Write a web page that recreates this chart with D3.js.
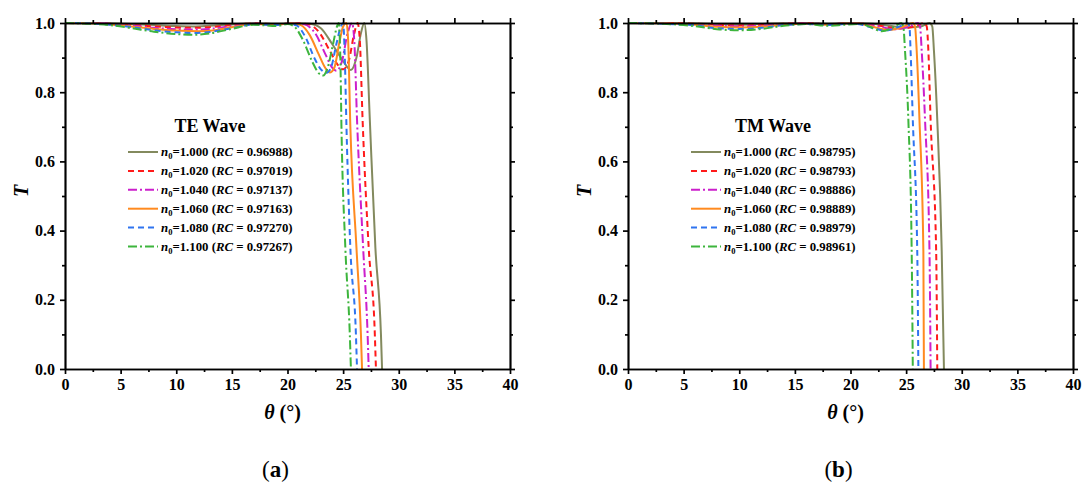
<!DOCTYPE html>
<html>
<head>
<meta charset="utf-8">
<script src="https://cdnjs.cloudflare.com/ajax/libs/d3/7.8.5/d3.min.js"></script>
<style>
  body { margin: 0; background: #fff; }
  svg { font-family: "Liberation Serif", "DejaVu Serif", serif; }
  .axis path, .axis line { stroke: #000; stroke-width: 1.7; }
  .axis text { font-size: 16px; font-weight: bold; fill: #000; font-family: "Liberation Serif", serif; }
</style>
</head>
<body>
<svg width="1082" height="486"></svg>
<script>
// legend labels
var nLabels = ["1.000", "1.020", "1.040", "1.060", "1.080", "1.100"];
var rcTE = ["0.96988", "0.97019", "0.97137", "0.97163", "0.97270", "0.97267"];
var rcTM = ["0.98795", "0.98793", "0.98886", "0.98889", "0.98979", "0.98961"];

var colors = ["#838a5e", "#ff1a1a", "#cc1fcc", "#ff8a1f", "#2f74f0", "#3db53d"];
var dashes = [null, "6,4", "9,3,2,3", null, "6,4", "9,3,2,3"];

var xTicks = [0, 5, 10, 15, 20, 25, 30, 35, 40];
var yTicks = [0, 0.2, 0.4, 0.6, 0.8, 1.0];

// TE wave, [theta, T]
var te100 = [[0,1],[2,1],[4,0.999],[6,0.997],[8,0.994],[10,0.991],[11.5,0.99],[13,0.992],[15,0.996],[17,0.999],[19,0.998],[21,0.999],[22,0.998],[23,0.985],[24,0.94],[25,0.89],[25.7,0.864],[26.2,0.9],[26.6,0.97],[26.9,1.0],[27.1,0.95],[27.4,0.72],[27.9,0.35],[28.4,0.1],[28.5,0.0]];
var te102 = [[0,1],[2,1],[4,0.998],[6,0.995],[8,0.99],[10,0.987],[11.5,0.986],[13,0.988],[15,0.994],[17,0.999],[19,0.997],[21,0.999],[21.8,0.997],[22.8,0.975],[23.8,0.92],[24.5,0.88],[25.0,0.866],[25.5,0.89],[26.0,0.97],[26.3,1.0],[26.5,0.95],[26.75,0.72],[27.3,0.35],[27.85,0.1],[27.95,0.0]];
var te104 = [[0,1],[2,1],[4,0.998],[6,0.993],[8,0.986],[10,0.982],[11.5,0.981],[13,0.983],[15,0.991],[17,0.998],[19,0.996],[20.5,0.999],[21.5,0.996],[22.5,0.97],[23.4,0.91],[24.0,0.872],[24.4,0.862],[24.9,0.89],[25.4,0.97],[25.8,1.0],[26.0,0.95],[26.25,0.72],[26.8,0.35],[27.2,0.1],[27.3,0.0]];
var te106 = [[0,1],[2,0.999],[4,0.996],[6,0.99],[8,0.983],[10,0.978],[12,0.976],[13.5,0.979],[15,0.988],[17,0.997],[19,0.995],[20.3,0.999],[21.2,0.994],[22.0,0.965],[22.8,0.91],[23.4,0.87],[23.8,0.857],[24.2,0.87],[24.7,0.95],[25.0,0.99],[25.3,1.0],[25.45,0.95],[25.65,0.7],[26.2,0.35],[26.6,0.1],[26.7,0.0]];
var te108 = [[0,1],[2,0.999],[4,0.995],[6,0.988],[8,0.979],[10,0.973],[11.5,0.971],[13,0.974],[15,0.985],[17,0.996],[19,0.994],[20,0.998],[20.8,0.993],[21.6,0.96],[22.4,0.9],[23.0,0.866],[23.5,0.856],[23.9,0.87],[24.4,0.94],[24.8,0.99],[25.0,1.0],[25.15,0.9],[25.3,0.7],[25.65,0.35],[26.15,0.1],[26.25,0.0]];
var te110 = [[0,1],[2,0.998],[4,0.994],[6,0.985],[8,0.975],[10,0.968],[11.5,0.966],[13,0.97],[15,0.983],[17,0.995],[19,0.991],[20,0.997],[20.6,0.99],[21.4,0.95],[22.2,0.89],[22.8,0.855],[23.2,0.848],[23.6,0.87],[24.1,0.94],[24.45,0.99],[24.6,1.0],[24.75,0.9],[24.85,0.7],[25.2,0.35],[25.6,0.1],[25.7,0.0]];

// TM wave, [theta, T]
var tm100 = [[0,1],[3,1],[6,0.999],[8,0.997],[10,0.995],[12,0.997],[14,0.999],[16,1],[18,0.998],[20,1],[22,0.998],[23.5,0.992],[25,0.987],[26.3,0.99],[27.1,1.0],[27.35,0.99],[27.5,0.92],[27.8,0.72],[28.2,0.34],[28.4,0.0]];
var tm102 = [[0,1],[3,1],[6,0.998],[8,0.995],[10,0.993],[12,0.995],[14,0.998],[16,0.999],[18,0.997],[20,0.999],[21.5,0.997],[23,0.99],[24.3,0.984],[25.8,0.99],[26.6,1.0],[26.85,0.99],[27.0,0.92],[27.2,0.72],[27.7,0.34],[27.8,0.0]];
var tm104 = [[0,1],[3,0.999],[6,0.996],[8,0.992],[10,0.99],[12,0.992],[14,0.997],[16,0.999],[18,0.996],[20,0.999],[21.5,0.996],[22.8,0.988],[23.9,0.982],[25.3,0.99],[26.05,1.0],[26.25,0.99],[26.4,0.92],[26.7,0.72],[27.1,0.34],[27.2,0.0]];
var tm106 = [[0,1],[3,0.999],[6,0.995],[8,0.989],[10,0.987],[12,0.989],[14,0.995],[16,0.998],[18,0.995],[20,0.999],[21.3,0.995],[22.5,0.985],[23.5,0.98],[24.8,0.99],[25.6,1.0],[25.8,0.99],[25.95,0.92],[26.2,0.72],[26.55,0.34],[26.6,0.0]];
var tm108 = [[0,1],[3,0.998],[6,0.993],[8,0.985],[10,0.983],[12,0.986],[14,0.994],[16,0.997],[18,0.994],[20,0.998],[21,0.995],[22.2,0.984],[23.1,0.978],[24.4,0.99],[25.1,1.0],[25.3,0.99],[25.4,0.92],[25.6,0.72],[26.0,0.34],[26.1,0.0]];
var tm110 = [[0,1],[3,0.998],[6,0.991],[8,0.982],[10,0.979],[12,0.983],[14,0.992],[16,0.997],[18,0.992],[19.5,0.995],[21,0.997],[22,0.985],[22.8,0.976],[24,0.99],[24.55,1.0],[24.75,0.99],[24.9,0.92],[25.2,0.72],[25.5,0.34],[25.6,0.0]];

var teSeries = [te100, te102, te104, te106, te108, te110];
var tmSeries = [tm100, tm102, tm104, tm106, tm108, tm110];

var svg = d3.select("svg");

function panel(left, series, rcs, title, tag) {
  var width = 445, height = 346, top = 23;
  var g = svg.append("g").attr("transform", "translate(" + left + "," + top + ")");

  var x = d3.scaleLinear().domain([0, 40]).range([0, width]);
  var y = d3.scaleLinear().domain([0, 1]).range([height, 0]);

  var line = d3.line()
    .curve(d3.curveMonotoneX)
    .x(function(d) { return x(d[0]); })
    .y(function(d) { return y(d[1]); });

  var clip = "clip" + tag;
  g.append("clipPath").attr("id", clip)
    .append("rect").attr("x", 0).attr("y", -1).attr("width", width).attr("height", height + 1);

  g.append("g").attr("clip-path", "url(#" + clip + ")")
    .selectAll("path")
    .data(series)
    .enter().append("path")
      .attr("d", line)
      .attr("fill", "none")
      .attr("stroke", function(d, i) { return colors[i]; })
      .attr("stroke-width", 2)
      .attr("stroke-dasharray", function(d, i) { return dashes[i]; });

  var minorX = d3.range(2.5, 40, 5), minorY = d3.range(0.1, 1, 0.2);

  // bottom / top
  g.append("g").attr("class", "axis").attr("transform", "translate(0," + height + ")")
    .call(d3.axisBottom(x).tickValues(xTicks).tickSize(5).tickSizeOuter(0).tickPadding(5).tickFormat(d3.format("d")));
  g.append("g").attr("class", "axis").attr("transform", "translate(0," + height + ")")
    .call(d3.axisBottom(x).tickValues(minorX).tickSize(3).tickSizeOuter(0).tickFormat(""));
  g.append("g").attr("class", "axis")
    .call(d3.axisTop(x).tickValues(xTicks).tickSize(5).tickSizeOuter(0).tickFormat(""));
  g.append("g").attr("class", "axis")
    .call(d3.axisTop(x).tickValues(minorX).tickSize(3).tickSizeOuter(0).tickFormat(""));

  // left / right
  g.append("g").attr("class", "axis")
    .call(d3.axisLeft(y).tickValues(yTicks).tickSize(5).tickSizeOuter(0).tickPadding(5).tickFormat(d3.format(".1f")));
  g.append("g").attr("class", "axis")
    .call(d3.axisLeft(y).tickValues(minorY).tickSize(3).tickSizeOuter(0).tickFormat(""));
  g.append("g").attr("class", "axis").attr("transform", "translate(" + width + ",0)")
    .call(d3.axisRight(y).tickValues(yTicks).tickSize(5).tickSizeOuter(0).tickFormat(""));
  g.append("g").attr("class", "axis").attr("transform", "translate(" + width + ",0)")
    .call(d3.axisRight(y).tickValues(minorY).tickSize(3).tickSizeOuter(0).tickFormat(""));

  // axis titles
  var xl = g.append("text")
    .attr("x", width / 2 - 5).attr("y", height + 50)
    .attr("text-anchor", "middle")
    .style("font-size", "20px").style("font-weight", "bold");
  xl.append("tspan").style("font-style", "italic").text("θ");
  xl.append("tspan").text(" (°)");

  g.append("text")
    .attr("transform", "translate(-37," + (height / 2 - 5) + ") rotate(-90)")
    .attr("text-anchor", "middle")
    .style("font-size", "20px").style("font-weight", "bold").style("font-style", "italic")
    .text("T");

  // legend
  var lx = 63, ly = 129;
  g.append("text")
    .attr("x", lx + 82).attr("y", ly - 26)
    .attr("text-anchor", "middle").attr("dy", "0.35em")
    .style("font-size", "18px").style("font-weight", "bold")
    .text(title);

  var item = g.selectAll(".leg")
    .data(nLabels)
    .enter().append("g")
      .attr("class", "leg")
      .attr("transform", function(d, i) { return "translate(" + lx + "," + (ly + i * 18.9) + ")"; });

  item.append("line")
    .attr("x1", 0).attr("x2", 30)
    .attr("stroke", function(d, i) { return colors[i]; })
    .attr("stroke-width", 2)
    .attr("stroke-dasharray", function(d, i) { return dashes[i]; });

  var t = item.append("text")
    .attr("x", 33).attr("dy", "0.35em")
    .style("font-size", "12.8px").style("font-weight", "bold");
  t.append("tspan").style("font-style", "italic").text("n");
  t.append("tspan").attr("dy", 3).style("font-size", "8.5px").text("0");
  t.append("tspan").attr("dy", -3).text(function(d) { return "=" + d + " ("; });
  t.append("tspan").style("font-style", "italic").text("RC");
  t.append("tspan").text(function(d, i) { return " = " + rcs[i] + ")"; });

  // panel tag
  var lab = svg.append("text")
    .attr("x", left + width / 2 - 12).attr("y", 477)
    .attr("text-anchor", "middle")
    .style("font-size", "23px");
  lab.append("tspan").text("(");
  lab.append("tspan").style("font-weight", "bold").text(tag);
  lab.append("tspan").text(")");
}

panel(65, teSeries, rcTE, "TE Wave", "a");
panel(628, tmSeries, rcTM, "TM Wave", "b");
</script>
</body>
</html>
